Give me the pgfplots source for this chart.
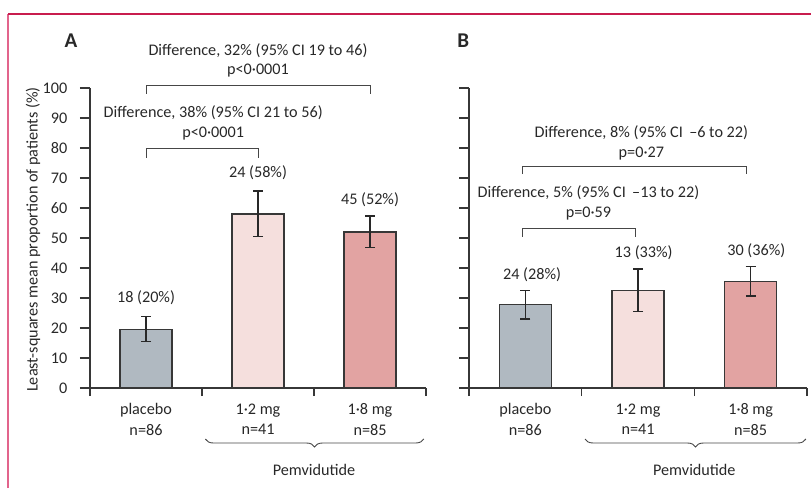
\documentclass[border=0pt]{standalone}
\usepackage{pgfplots}
\pgfplotsset{compat=1.18}
\usepackage{fontspec}
\setmainfont{Carlito}
\usetikzlibrary{decorations.pathreplacing}
\definecolor{frameA}{RGB}{200,28,78}
\definecolor{frameB}{RGB}{226,100,140}
\definecolor{txt}{RGB}{40,40,40}
\definecolor{axc}{RGB}{55,55,55}
\definecolor{brk}{RGB}{70,70,70}
\definecolor{cpl}{RGB}{176,185,193}
\definecolor{clo}{RGB}{245,223,221}
\definecolor{chi}{RGB}{226,163,162}
\pgfplotsset{
 panel/.style={
  scale only axis, height=300pt,
  xmin=-0.5, xmax=2.5, ymin=0, ymax=100,
  axis lines*=left, axis line style={axc, line width=1.1pt},
  clip=false,
  xtick={0,1,2},
  xticklabels={placebo\\n=86, 1·2 mg\\n=41, 1·8 mg\\n=85},
  major x tick style={draw=none},
  minor xtick={-0.5,0.5,1.5,2.5},
  minor tick length=8pt,
  ytick={0,10,...,100},
  major tick length=10pt,
  tick align=outside,
  every tick/.style={axc, line width=1.1pt},
  xticklabel style={align=center, text=txt, yshift=0pt},
  yticklabel style={text=txt, inner sep=1pt, xshift=-11.5pt},
  /pgf/number format/assume math mode=true,
  ybar, bar width=52pt, bar shift=0pt,
  error bars/y dir=both, error bars/y explicit,
  error bars/error bar style={line width=1.3pt, txt},
  error bars/error mark options={rotate=90, mark size=5pt, line width=1.3pt, txt},
 }
}
\begin{document}
\fontsize{16.2}{20.5}\selectfont
\begin{tikzpicture}[x=1pt,y=1pt]
\useasboundingbox (0,0) rectangle (811,488);
\draw[frameB, line width=1.2pt] (8,0) -- (8,474);
\draw[frameA, line width=1.2pt] (8,474) -- (811,474);

% Panel A
\begin{axis}[panel, width=336pt, at={(90pt,100pt)}, anchor=south west]
\addplot[fill=cpl, draw=axc, line width=1.1pt] coordinates {(0,19.6) += (0,4.2) -= (0,4.2)};
\addplot[fill=clo, draw=axc, line width=1.1pt] coordinates {(1,58.0) += (0,7.7) -= (0,7.6)};
\addplot[fill=chi, draw=axc, line width=1.1pt] coordinates {(2,52.0) += (0,5.3) -= (0,5.1)};
\node[txt] at (axis cs:0,30) {18 (20\%)};
\node[txt] at (axis cs:1,71.7) {24 (58\%)};
\node[txt] at (axis cs:2,62.7) {45 (52\%)};
\draw[brk, line width=0.9pt] (axis cs:0,98.0) -- (axis cs:0,101) -- (axis cs:2,101) -- (axis cs:2,98.0);
\draw[brk, line width=0.9pt] (axis cs:0,76.8) -- (axis cs:0,79.7) -- (axis cs:1,79.7) -- (axis cs:1,76.8);
\node[txt] at (axis cs:1,112.3) {Difference, 32\% (95\% CI 19 to 46)};
\node[txt] at (axis cs:1,105.7) {p<0·0001};
\node[txt] at (axis cs:0.6,91.7) {Difference, 38\% (95\% CI 21 to 56)};
\node[txt] at (axis cs:0.6,84.7) {p<0·0001};
\draw[brk, line width=0.9pt, decorate, decoration={brace, amplitude=8pt}] (axis cs:2.48,-17.0) -- (axis cs:0.53,-17.0);
\node[txt] at (axis cs:1.5,-27.3) {Pemvidutide};
\node[txt, font=\fontsize{21}{24}\selectfont\bfseries] at (axis cs:-0.67,115.7) {A};
\node[txt, rotate=90] at (axis cs:-1.009,49.5) {Least-squares mean proportion of patients (\%)};
\end{axis}

% Panel B
\begin{axis}[panel, width=338pt, at={(469pt,100pt)}, anchor=south west, yticklabels={}]
\addplot[fill=cpl, draw=axc, line width=1.1pt] coordinates {(0,27.7) += (0,4.7) -= (0,4.7)};
\addplot[fill=clo, draw=axc, line width=1.1pt] coordinates {(1,32.5) += (0,7.2) -= (0,7.1)};
\addplot[fill=chi, draw=axc, line width=1.1pt] coordinates {(2,35.6) += (0,4.8) -= (0,4.9)};
\node[txt] at (axis cs:0.06,37.7) {24 (28\%)};
\node[txt] at (axis cs:1.05,45) {13 (33\%)};
\node[txt] at (axis cs:2.05,45.7) {30 (36\%)};
\draw[brk, line width=0.9pt] (axis cs:-0.03,71.3) -- (axis cs:-0.03,74) -- (axis cs:1.96,74) -- (axis cs:1.96,71.3);
\draw[brk, line width=0.9pt] (axis cs:-0.03,50.5) -- (axis cs:-0.03,53.3) -- (axis cs:0.98,53.3) -- (axis cs:0.98,50.5);
\node[txt] at (axis cs:1.03,85) {Difference, 8\% (95\% CI \,–6 to 22)};
\node[txt] at (axis cs:1.03,78) {p=0·27};
\node[txt] at (axis cs:0.56,65) {Difference, 5\% (95\% CI \,–13 to 22)};
\node[txt] at (axis cs:0.56,58.3) {p=0·59};
\draw[brk, line width=0.9pt, decorate, decoration={brace, amplitude=8pt}] (axis cs:2.49,-17.0) -- (axis cs:0.53,-17.0);
\node[txt] at (axis cs:1.5,-27.3) {Pemvidutide};
\node[txt, font=\fontsize{21}{24}\selectfont\bfseries] at (axis cs:-0.55,115.7) {B};
\end{axis}
\end{tikzpicture}
\end{document}
